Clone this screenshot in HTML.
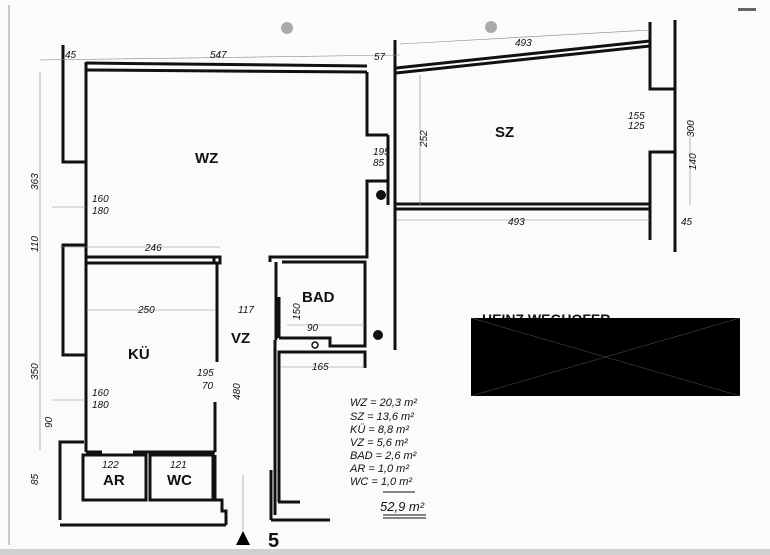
<!DOCTYPE html>
<html><head><meta charset="utf-8"><style>
html,body{margin:0;padding:0;background:#fff;}
svg{display:block}
text{font-family:"Liberation Sans",sans-serif;fill:#111;}
.d{font-size:10px;font-style:italic}
.r{font-size:15px;font-weight:bold}
</style></head><body>
<svg width="770" height="555" viewBox="0 0 770 555" xmlns="http://www.w3.org/2000/svg">
<rect width="770" height="555" fill="#fbfbfb"/>
<rect x="0" y="549" width="770" height="6" fill="#d0d0d0"/>
<line x1="9" y1="5" x2="9" y2="545" stroke="#999" stroke-width="1"/>
<circle cx="287" cy="28" r="6" fill="#aaa"/>
<circle cx="491" cy="27" r="6" fill="#aaa"/>
<rect x="738" y="8" width="18" height="3" fill="#666"/>
<g fill="none" stroke="#111" stroke-width="3" stroke-linejoin="miter">
<polyline points="63,45 63,162 86,162"/>
<line x1="86" y1="62" x2="86" y2="263"/>
<line x1="86" y1="63" x2="367" y2="66"/>
<line x1="86" y1="70" x2="367" y2="72"/>
<polyline points="367,72 367,135 388,135"/>
<polyline points="388,181 367,181 367,257 270,257 270,262"/>
<line x1="395" y1="40" x2="395" y2="350"/>
<line x1="388" y1="135" x2="388" y2="205"/>
<polyline points="63,265 63,245 86,245"/>
<line x1="86" y1="257" x2="218" y2="257"/>
<line x1="86" y1="263" x2="214" y2="263"/>
<rect x="214" y="257" width="6" height="6"/>
<line x1="396" y1="68" x2="650" y2="41"/>
<line x1="396" y1="73" x2="650" y2="46"/>
<polyline points="650,22 650,89 675,89"/>
<line x1="675" y1="20" x2="675" y2="252"/>
<polyline points="650,240 650,152 675,152"/>
<line x1="396" y1="204" x2="650" y2="204"/>
<line x1="396" y1="209" x2="650" y2="209"/>
<polyline points="63,265 63,355 86,355"/>
<line x1="86" y1="263" x2="86" y2="452"/>
<polyline points="217,263 217,362"/>
<polyline points="215,402 215,452"/>
<polyline points="86,452 102,452"/>
<polyline points="133,452 215,452"/>
<polyline points="60,520 60,442 84,442"/>
<line x1="60" y1="525" x2="226" y2="525"/>
<polyline points="226,525 226,511 222,511 222,500 215,500 215,455"/>
<rect x="83" y="455" width="63" height="45"/>
<rect x="150" y="455" width="63" height="45"/>
<line x1="276" y1="262" x2="276" y2="340"/>
<line x1="279" y1="297" x2="279" y2="338"/>
<polyline points="279,338 330,338 330,346 365,346 365,262 282,262"/>
<polyline points="279,502 279,352 365,352 365,368"/>
<line x1="271" y1="470" x2="271" y2="520"/>
<line x1="271" y1="520" x2="330" y2="520"/>
<line x1="275" y1="340" x2="275" y2="515"/>
<polyline points="278,502 300,502"/>
</g>
<g stroke="#888" stroke-width="0.6" fill="none">
<line x1="40" y1="60" x2="400" y2="55"/>
<line x1="60" y1="247" x2="220" y2="247"/>
<line x1="40" y1="72" x2="40" y2="450"/>
<line x1="420" y1="75" x2="420" y2="205"/>
<line x1="690" y1="120" x2="690" y2="205"/>
<line x1="52" y1="207" x2="86" y2="207"/>
<line x1="52" y1="400" x2="86" y2="400"/>
<line x1="86" y1="310" x2="215" y2="310"/>
<line x1="287" y1="325" x2="365" y2="325"/>
<line x1="280" y1="367" x2="365" y2="367"/>
<line x1="243" y1="475" x2="243" y2="530"/>
<line x1="400" y1="44" x2="650" y2="30"/>
<line x1="396" y1="220" x2="650" y2="220"/>
</g>
<circle cx="381" cy="195" r="5" fill="#111"/>
<circle cx="378" cy="335" r="5" fill="#111"/>
<circle cx="315" cy="345" r="3" fill="none" stroke="#111" stroke-width="1.5"/>
<text class="r" x="195" y="163" font-size="17">WZ</text>
<text class="r" x="495" y="137">SZ</text>
<text class="r" x="128" y="359">KÜ</text>
<text class="r" x="231" y="343">VZ</text>
<text class="r" x="302" y="302" font-size="13">BAD</text>
<text class="r" x="103" y="485" font-size="12">AR</text>
<text class="r" x="167" y="485" font-size="12">WC</text>
<text class="d" x="210" y="58">547</text>
<text class="d" x="65" y="58">45</text>
<text class="d" x="374" y="60">57</text>
<text class="d" x="515" y="46">493</text>
<text class="d" x="508" y="225">493</text>
<text class="d" x="145" y="251">246</text>
<text class="d" x="138" y="313">250</text>
<text class="d" x="238" y="313">117</text>
<text class="d" x="312" y="370">165</text>
<text class="d" x="92" y="202">160</text>
<text class="d" x="92" y="214">180</text>
<text class="d" x="92" y="396">160</text>
<text class="d" x="92" y="408">180</text>
<text class="d" x="197" y="376">195</text>
<text class="d" x="202" y="389">70</text>
<text class="d" x="373" y="155">195</text>
<text class="d" x="373" y="166">85</text>
<text class="d" x="628" y="119">155</text>
<text class="d" x="628" y="129">125</text>
<text class="d" x="102" y="468">122</text>
<text class="d" x="170" y="468">121</text>
<text class="d" x="307" y="331">90</text>
<text class="d" x="681" y="225">45</text>
<text class="d" transform="translate(38,190) rotate(-90)">363</text>
<text class="d" transform="translate(38,252) rotate(-90)">110</text>
<text class="d" transform="translate(38,380) rotate(-90)">350</text>
<text class="d" transform="translate(52,428) rotate(-90)">90</text>
<text class="d" transform="translate(38,485) rotate(-90)">85</text>
<text class="d" transform="translate(240,400) rotate(-90)">480</text>
<text class="d" transform="translate(427,147) rotate(-90)">252</text>
<text class="d" transform="translate(696,170) rotate(-90)">140</text>
<text class="d" transform="translate(694,137) rotate(-90)">300</text>
<text class="d" transform="translate(300,320) rotate(-90)">150</text>
<g font-size="11" font-style="italic">
<text x="350" y="406">WZ = 20,3 m²</text>
<text x="350" y="420">SZ = 13,6 m²</text>
<text x="350" y="433">KÜ =  8,8 m²</text>
<text x="350" y="446">VZ =  5,6 m²</text>
<text x="350" y="459">BAD = 2,6 m²</text>
<text x="350" y="472">AR =  1,0 m²</text>
<text x="350" y="485">WC =  1,0 m²</text>
<text x="380" y="511" font-size="13">52,9 m²</text>
</g>
<line x1="383" y1="492" x2="415" y2="492" stroke="#111" stroke-width="1"/>
<line x1="383" y1="515" x2="426" y2="515" stroke="#111" stroke-width="1"/>
<line x1="383" y1="518" x2="426" y2="518" stroke="#111" stroke-width="1"/>
<text x="482" y="324" font-size="14" font-weight="bold">HEINZ  WEGHOFER</text>
<rect x="471" y="318" width="269" height="78" fill="#000"/>
<line x1="471" y1="318" x2="740" y2="396" stroke="#555" stroke-width="0.5"/>
<line x1="471" y1="396" x2="740" y2="318" stroke="#555" stroke-width="0.5"/>
<polygon points="236,545 250,545 243,531" fill="#000"/>
<text x="268" y="547" font-size="20" font-weight="bold">5</text>
</svg>
</body></html>
